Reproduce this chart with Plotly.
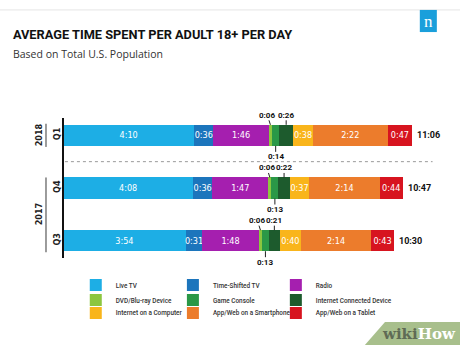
import plotly.graph_objects as go

# ---- data ----
categories = ["Q1", "Q4", "Q3"]
years = ["2018", "2017", "2017"]
series = ["Live TV", "Time-Shifted TV", "Radio", "DVD/Blu-ray Device", "Game Console",
          "Internet Connected Device", "Internet on a Computer", "App/Web on a Smartphone",
          "App/Web on a Tablet"]
live_tv = [250, 248, 234]
time_shifted = [36, 36, 31]
radio = [106, 107, 108]
dvd = [6, 6, 6]
game_console = [14, 13, 13]
icd = [26, 22, 21]
computer = [38, 37, 40]
smartphone = [142, 134, 134]
tablet = [47, 44, 43]
totals = [666, 647, 630]

values = [live_tv, time_shifted, radio, dvd, game_console, icd, computer, smartphone, tablet]
colors = ["#1DAEE5", "#1C75BC", "#A51FAF", "#8CC63F", "#2A9847", "#1D5B2D",
          "#F9B51B", "#EC7C2C", "#D7141F"]
# small segments are labelled outside the bar: (side, xshift) with +1 above, -1 below
outside = {3: (1, -3), 4: (-1, 0), 5: (1, 0)}

COND = "DejaVu Sans Condensed, Roboto, sans-serif"
ROBOTO = "Roboto, sans-serif"


def hm(m):
    return f"{m // 60}:{m % 60:02d}"


legend_names = ["legend"] + [f"legend{k}" for k in range(2, 10)]
fig = go.Figure()
for i, (name, vals, col) in enumerate(zip(series, values, colors)):
    txt = ["" if i in outside else hm(v) for v in vals]
    fig.add_trace(go.Bar(
        y=categories, x=vals, name=name, orientation="h",
        marker=dict(color=col, line=dict(width=0)),
        text=txt, textposition="inside", insidetextanchor="middle", textangle=0,
        constraintext="none",
        textfont=dict(color="white", size=9, family=COND),
        width=0.4, hoverinfo="x+name", legend=legend_names[i],
    ))

annotations = []
shapes = []
# outside labels for small segments
for ci, cat in enumerate(categories):
    cum = 0
    for i, vals in enumerate(values):
        v = vals[ci]
        if i in outside:
            side, xs = outside[i]
            annotations.append(dict(
                x=cum + v / 2, y=ci - 0.2 * side, xref="x", yref="y",
                text=hm(v), showarrow=True, arrowhead=0, arrowwidth=1, arrowcolor="#222",
                ax=xs, ay=-9.5 if side > 0 else 11, borderpad=0,
                font=dict(size=8, color="#111", family=ROBOTO, weight="bold"),
            ))
        cum += v
    annotations.append(dict(
        x=cum, y=cat, xref="x", yref="y", text=hm(totals[ci]), showarrow=False,
        xanchor="left", xshift=3, font=dict(size=9, color="#111", family=ROBOTO, weight="bold"),
    ))

# year labels + brackets
for ytxt, ypos in (("2018", 0), ("2017", 1.5)):
    annotations.append(dict(x=-0.062, y=ypos, xref="paper", yref="y", text=ytxt, textangle=-90,
                            xanchor="center", yanchor="middle", showarrow=False,
                            font=dict(size=9, color="#222", family=COND, weight="bold")))
shapes.append(dict(type="line", xref="paper", yref="y", x0=-0.044, x1=-0.044, y0=-0.22, y1=0.22,
                   line=dict(color="#9a9a9a", width=2)))
shapes.append(dict(type="line", xref="paper", yref="y", x0=-0.044, x1=-0.044, y0=0.8, y1=2.22,
                   line=dict(color="#9a9a9a", width=2)))
# axis line
shapes.append(dict(type="line", xref="paper", yref="y", x0=0, x1=0, y0=-0.33, y1=2.33,
                   line=dict(color="#111", width=2)))
# separator
shapes.append(dict(type="line", xref="paper", yref="y", x0=0.005, x1=0.955, y0=0.5, y1=0.5,
                   line=dict(color="#9a9a9a", width=1, dash="dot")))
# top line
shapes.append(dict(type="line", xref="paper", yref="paper", x0=-0.17, x1=1.03, y0=1.627, y1=1.627,
                   line=dict(color="#e6e6e6", width=1)))
# nielsen logo
shapes.append(dict(type="rect", xref="paper", yref="paper", x0=0.922, x1=0.966, y0=1.487, y1=1.627,
                   fillcolor="#1A9FDB", line=dict(width=0)))
annotations.append(dict(x=0.944, y=1.552, xref="paper", yref="paper", text="n", showarrow=False,
                        xanchor="center", yanchor="middle",
                        font=dict(size=17, color="white", family="Liberation Serif, DejaVu Serif, serif")))
# subtitle
annotations.append(dict(x=-0.134, y=1.348, xref="paper", yref="paper", text="Based on Total U.S. Population",
                        showarrow=False, xanchor="left", yanchor="middle",
                        font=dict(size=10.5, color="#333", family="Open Sans, sans-serif")))
# watermark
shapes.append(dict(type="path", xref="paper", yref="paper",
                   path="M 0.78 -0.494 L 0.832 -0.348 L 1.03 -0.348 L 1.03 -0.494 Z",
                   fillcolor="#A8BF8C", line=dict(width=0)))
annotations.append(dict(x=0.92, y=-0.425, xref="paper", yref="paper", xanchor="center", yanchor="middle",
                        text="<span style='color:#5f6b55'>wiki</span><span style='color:#ffffff'>How</span>",
                        showarrow=False, font=dict(size=15, family="DejaVu Serif, serif", weight="bold")))

# one single-item legend per series, laid out in a 3x3 grid
col_x = [0.033, 0.284, 0.55]
row_y = [-0.114, -0.209, -0.291]
legends = {}
for i, lname in enumerate(legend_names):
    legends[lname] = dict(orientation="h", xanchor="left", yanchor="middle",
                          x=col_x[i % 3], y=row_y[i // 3], bgcolor="rgba(0,0,0,0)",
                          font=dict(size=6.4, color="#333", family=ROBOTO, weight=500),
                          itemwidth=30)

fig.update_layout(
    width=460, height=345, barmode="stack",
    margin=dict(l=63, r=10, t=109, b=78, autoexpand=False),
    paper_bgcolor="white", plot_bgcolor="white",
    title=dict(text="AVERAGE TIME SPENT PER ADULT 18+ PER DAY", x=0.028, xanchor="left",
               xref="container", yref="container", y=1 - 35 / 345, yanchor="middle",
               font=dict(size=12.8, color="#111", family=ROBOTO, weight="bold")),
    xaxis=dict(range=[0, 737], visible=False, fixedrange=True),
    yaxis=dict(categoryorder="array", categoryarray=categories, range=[2.5, -0.5],
               showgrid=False, zeroline=False, showline=False, ticks="",
               tickangle=-90, tickfont=dict(size=9, color="#222", family=COND, weight="bold")),
    showlegend=True,
    annotations=annotations, shapes=shapes,
    **legends,
)

fig.write_html("out.html")
